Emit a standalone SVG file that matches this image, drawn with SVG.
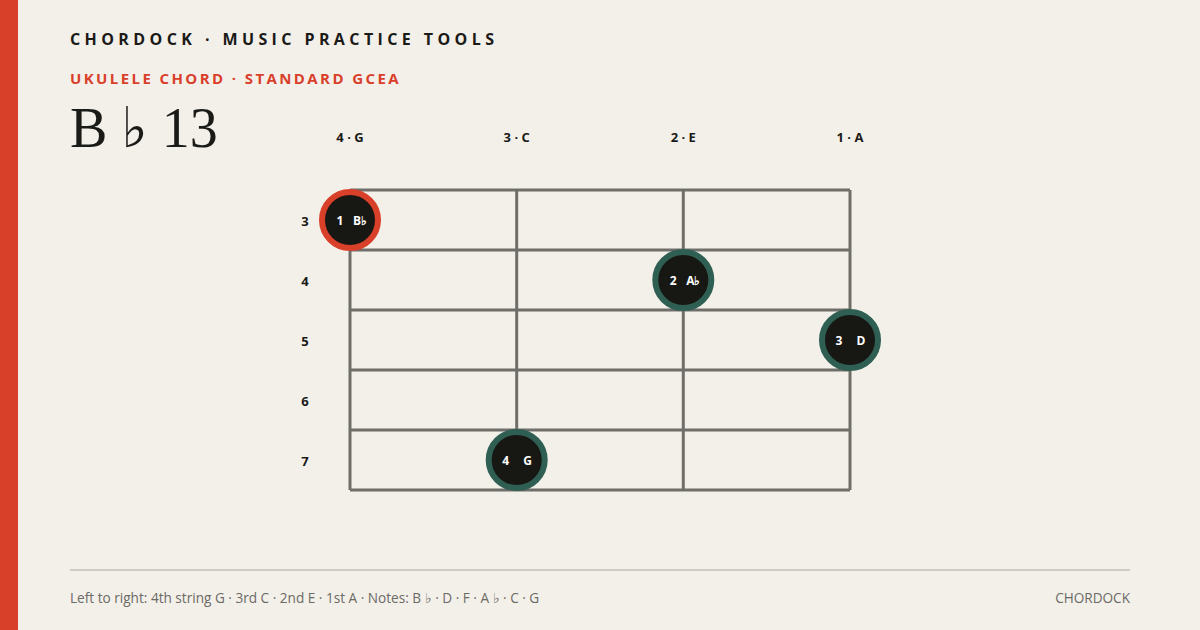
<svg xmlns="http://www.w3.org/2000/svg" width="1200" height="630" viewBox="0 0 1200 630">
<style>
.hdr{font-family:"Open Sans","Noto Sans",sans-serif;font-weight:700;font-size:16px;letter-spacing:4.4px;fill:#1a1a17}
.sub{font-family:"Open Sans","Noto Sans",sans-serif;font-weight:700;font-size:15px;letter-spacing:2.4px;fill:#d9402a}
.title{font-family:"Liberation Serif","DejaVu Serif",serif;font-size:56px;fill:#1a1a17}
.lbl{font-family:"Open Sans","Noto Sans",sans-serif;font-weight:700;font-size:13px;fill:#1a1a17;text-anchor:middle}
.fret{stroke:#6f6e69;stroke-width:3;fill:none}
.dot{fill:#171714;stroke-width:6}
.teal{stroke:#2f5e52}
.root{stroke:#d9402a}
.dt{font-family:"Open Sans","Noto Sans",sans-serif;font-weight:700;font-size:12px;fill:#ffffff;text-anchor:middle}
.foot{font-family:"Open Sans","Noto Sans",sans-serif;font-size:13.6px;fill:#6b6a65}
</style>
<rect width="1200" height="630" fill="#f3f0ea"/>
<rect x="0" y="0" width="18" height="630" fill="#d9402a"/>
<text class="hdr" x="70" y="45">CHORDOCK · MUSIC PRACTICE TOOLS</text>
<text class="sub" x="70" y="84">UKULELE CHORD · STANDARD GCEA</text>
<text class="title" x="70" y="147">B ♭ 13</text>
<g id="string-labels">
<text class="lbl" x="350" y="142">4 · G</text>
<text class="lbl" x="516.7" y="142">3 · C</text>
<text class="lbl" x="683.3" y="142">2 · E</text>
<text class="lbl" x="850" y="142">1 · A</text>
</g>
<g id="fret-labels">
<text class="lbl" x="305" y="226">3</text>
<text class="lbl" x="305" y="286">4</text>
<text class="lbl" x="305" y="346">5</text>
<text class="lbl" x="305" y="406">6</text>
<text class="lbl" x="305" y="466">7</text>
</g>
<g id="grid">
<path class="fret" d="M350 190H850M350 250H850M350 310H850M350 370H850M350 430H850M350 490H850"/>
<path class="fret" d="M516.7 190V490M683.3 190V490M850 190V490"/>
<path class="fret" d="M350 190V490" stroke-width="4"/>
</g>
<g id="note-1">
<circle class="dot root" cx="350" cy="220" r="28"/>
<text class="dt" x="340" y="225">1</text><text class="dt" x="360" y="225">B♭</text>
</g>
<g id="note-2">
<circle class="dot teal" cx="683.3" cy="280" r="28"/>
<text class="dt" x="673.3" y="285">2</text><text class="dt" x="693.3" y="285">A♭</text>
</g>
<g id="note-3">
<circle class="dot teal" cx="850" cy="340" r="28"/>
<text class="dt" x="839" y="345">3</text><text class="dt" x="861" y="345">D</text>
</g>
<g id="note-4">
<circle class="dot teal" cx="516.7" cy="460" r="28"/>
<text class="dt" x="505.7" y="465">4</text><text class="dt" x="527.7" y="465">G</text>
</g>
<line x1="70" y1="570" x2="1130" y2="570" stroke="#cfcbc3" stroke-width="2"/>
<text class="foot" x="70" y="603">Left to right: 4th string G · 3rd C · 2nd E · 1st A · Notes: B ♭ · D · F · A ♭ · C · G</text>
<text class="foot" x="1130" y="603" text-anchor="end">CHORDOCK</text>
</svg>
